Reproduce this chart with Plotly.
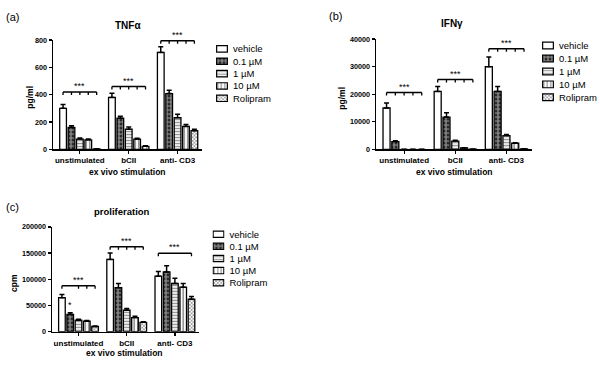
import plotly.graph_objects as go

# ---------------- data ----------------
categories = ["unstimulated", "bCII", "anti- CD3"]
series = ["vehicle", "0.1 µM", "1 µM", "10 µM", "Rolipram"]

tnf_vehicle = [300, 380, 710]
tnf_01 = [160, 228, 408]
tnf_1 = [75, 148, 232]
tnf_10 = [70, 75, 168]
tnf_rol = [3, 22, 137]
tnf_err_vehicle = [28, 30, 42]
tnf_err_01 = [12, 14, 25]
tnf_err_1 = [8, 15, 25]
tnf_err_10 = [6, 6, 14]
tnf_err_rol = [1, 4, 10]
tnf_bracket = [420, 460, 795]

ifn_vehicle = [15000, 21000, 30000]
ifn_01 = [2800, 11700, 21000]
ifn_1 = [0, 3000, 5000]
ifn_10 = [0, 500, 2200]
ifn_rol = [0, 60, 200]
ifn_err_vehicle = [1800, 1800, 3500]
ifn_err_01 = [300, 1600, 1800]
ifn_err_1 = [0, 300, 400]
ifn_err_10 = [0, 100, 200]
ifn_err_rol = [0, 20, 50]
ifn_bracket = [20600, 25300, 36500]

pro_vehicle = [65000, 138000, 106000]
pro_01 = [33000, 84000, 114000]
pro_1 = [22000, 41000, 92000]
pro_10 = [20000, 27000, 85000]
pro_rol = [10000, 18000, 62000]
pro_err_vehicle = [6000, 12000, 9000]
pro_err_01 = [3000, 8000, 12000]
pro_err_1 = [2000, 3500, 10000]
pro_err_10 = [1500, 2500, 7000]
pro_err_rol = [1000, 1000, 5000]
pro_bracket = [87500, 162000, 149700]

tnf_ticks = [[0, 1, 2, 3, 4], [0, 1, 2, 3, 4], [0, 1, 2, 3, 4]]
ifn_ticks = [[0, 1, 2, 3, 4], [0, 1, 2, 3, 4], [0, 1, 2, 3, 4]]
pro_ticks = [[0, 2, 3, 4], [0, 1, 2, 3, 4], [0, 4]]

y_ranges = [[0, 800], [0, 40000], [0, 200000]]
y_dticks = [200, 10000, 50000]
y_titles = ["pg/ml", "pg/ml", "cpm"]
x_title = "ex vivo stimulation"
panel_titles = ["TNFα", "IFNγ", "proliferation"]
panel_letters = ["(a)", "(b)", "(c)"]

# ---------------- styling ----------------
FONT = "Liberation Sans, Arial, sans-serif"
pat_shape = ["", ".", "-", "|", "x"]
pat_fg = ["black", "white", "#222222", "black", "#333333"]
pat_bg = ["white", "black", "white", "white", "white"]
pat_size = [4, 4, 3, 3.5, 2.5]
pat_sol = [0.3, 0.75, 0.45, 0.4, 0.55]

def pattern(i):
    return dict(shape=pat_shape[i], fgcolor=pat_fg[i], bgcolor=pat_bg[i],
                size=pat_size[i], solidity=pat_sol[i])

panels = [
    dict(vals=[tnf_vehicle, tnf_01, tnf_1, tnf_10, tnf_rol],
         errs=[tnf_err_vehicle, tnf_err_01, tnf_err_1, tnf_err_10, tnf_err_rol],
         bracket=tnf_bracket, ticks=tnf_ticks),
    dict(vals=[ifn_vehicle, ifn_01, ifn_1, ifn_10, ifn_rol],
         errs=[ifn_err_vehicle, ifn_err_01, ifn_err_1, ifn_err_10, ifn_err_rol],
         bracket=ifn_bracket, ticks=ifn_ticks),
    dict(vals=[pro_vehicle, pro_01, pro_1, pro_10, pro_rol],
         errs=[pro_err_vehicle, pro_err_01, pro_err_1, pro_err_10, pro_err_rol],
         bracket=pro_bracket, ticks=pro_ticks),
]

BARGAP = 0.14
GROUPGAP = 0.2

fig = go.Figure()
for p_i, p in enumerate(panels):
    xa = "x" if p_i == 0 else f"x{p_i+1}"
    ya = "y" if p_i == 0 else f"y{p_i+1}"
    for s_i, name in enumerate(series):
        fig.add_trace(go.Bar(
            x=categories, y=p["vals"][s_i], name=name, showlegend=False,
            xaxis=xa, yaxis=ya,
            marker=dict(color=pat_bg[s_i], line=dict(color="black", width=1.3),
                        pattern=pattern(s_i)),
            error_y=dict(type="data", array=p["errs"][s_i],
                         arrayminus=[0] * len(categories), symmetric=False,
                         color="black", thickness=1.5, width=2.5),
        ))
    # significance brackets
    slot = (1 - BARGAP) / len(series)
    for c_i in range(len(categories)):
        centers = [c_i - (1 - BARGAP) / 2 + (k + 0.5) * slot for k in range(len(series))]
        yb = p["bracket"][c_i]
        fig.add_shape(type="line", xref=xa, yref=ya, x0=centers[0], x1=centers[-1],
                      y0=yb, y1=yb, line=dict(color="black", width=1.5))
        for k in p["ticks"][c_i]:
            fig.add_shape(type="line", xref=xa, yref=ya, x0=centers[k], x1=centers[k],
                          ysizemode="pixel", yanchor=yb, y0=0, y1=-3,
                          line=dict(color="black", width=1.3))
        fig.add_annotation(xref=xa, yref=ya, x=c_i, y=yb, text="***", showarrow=False,
                           yanchor="bottom", yshift=-1, font=dict(size=9, color="black", family=FONT))

# single star over 0.1 µM in unstimulated proliferation
slot = (1 - BARGAP) / len(series)
fig.add_annotation(xref="x3", yref="y3", x=0 - (1 - BARGAP) / 2 + 1.5 * slot,
                   y=pro_01[0] + pro_err_01[0], text="*", showarrow=False,
                   yanchor="bottom", yshift=1, font=dict(size=9, color="black", family=FONT))

# legend swatches (one small horizontal-bar trace per panel on its own axes)
for l_i in range(3):
    fig.add_trace(go.Bar(
        y=series, x=[1] * len(series), orientation="h", width=0.52, base=0,
        showlegend=False, hoverinfo="skip",
        xaxis=f"x{l_i+4}", yaxis=f"y{l_i+4}",
        marker=dict(color=pat_bg, line=dict(color="black", width=1.2),
                    pattern=dict(shape=pat_shape, fgcolor=pat_fg, bgcolor=pat_bg,
                                 size=pat_size, solidity=pat_sol)),
    ))

ytick_font = dict(family=FONT, size=7.2, color="black", weight="bold")
xtick_font = dict(family=FONT, size=8, color="black", weight="bold")

doms = [
    dict(x=[53 / 600, 202 / 600], y=[1 - 149 / 366, 1 - 37 / 366]),
    dict(x=[376 / 600, 532 / 600], y=[1 - 149 / 366, 1 - 36 / 366]),
    dict(x=[52 / 600, 199 / 600], y=[1 - 336 / 366, 1 - 228.5 / 366]),
]

# legend boxes: symbol x-extent and item y-extent (px)
leg_doms = [
    dict(x=[216, 228], y=[39.7, 103]),
    dict(x=[542, 554], y=[36, 102.3]),
    dict(x=[212.5, 224.5], y=[229.8, 292]),
]

layout = dict(
    width=600, height=366, margin=dict(l=0, r=0, t=0, b=0),
    paper_bgcolor="white", plot_bgcolor="white",
    barmode="group", bargap=BARGAP, bargroupgap=GROUPGAP,
    font=dict(family=FONT, color="black"),
    showlegend=False,
)
for i in range(3):
    sx = "xaxis" if i == 0 else f"xaxis{i+1}"
    sy = "yaxis" if i == 0 else f"yaxis{i+1}"
    layout[sx] = dict(domain=doms[i]["x"], anchor="y" if i == 0 else f"y{i+1}",
                      showline=True, linecolor="black", linewidth=1.5,
                      ticks="outside", ticklen=3, tickwidth=1.2, tickcolor="black",
                      tickfont=xtick_font, showgrid=False, zeroline=False,
                      range=[-0.55, 2.5], fixedrange=True)
    layout[sy] = dict(domain=doms[i]["y"], anchor="x" if i == 0 else f"x{i+1}",
                      range=y_ranges[i], dtick=y_dticks[i], tick0=0, tickformat="d",
                      showline=True, linecolor="black", linewidth=1.5,
                      ticks="outside", ticklen=3, tickwidth=1.3, tickcolor="black",
                      tickfont=ytick_font, showgrid=False, zeroline=False, fixedrange=True)
    lx = f"xaxis{i+4}"
    ly = f"yaxis{i+4}"
    d = leg_doms[i]
    layout[lx] = dict(domain=[d["x"][0] / 600, d["x"][1] / 600], anchor=f"y{i+4}",
                      range=[-0.06, 1.06], visible=False, fixedrange=True)
    layout[ly] = dict(domain=[1 - d["y"][1] / 366, 1 - d["y"][0] / 366], anchor=f"x{i+4}",
                      type="category", categoryorder="array", categoryarray=series,
                      autorange="reversed", side="right", showline=False, showgrid=False,
                      zeroline=False, ticks="", ticklabelstandoff=4,
                      tickfont=dict(family=FONT, size=9.5, color="black"), fixedrange=True)

fig.update_layout(**layout)

# axis titles, panel titles and letters (pixel positions)
ytitle_pos = [(30, 96), (342, 96), (14, 286)]
xtitle_pos = [(127, 172), (454, 172), (124, 358)]
ptitle_pos = [(128, 22), (452, 20), (122, 213)]
letter_pos = [(12, 13), (335, 12), (12, 208)]

def ann(text, px, py, font, angle=0):
    fig.add_annotation(xref="paper", yref="paper", x=px / 600, y=1 - py / 366, text=text,
                       showarrow=False, xanchor="center", yanchor="middle", textangle=angle,
                       borderpad=0,
                       font=dict(family=FONT, color="black", **font))

for i in range(3):
    ann(y_titles[i], *ytitle_pos[i], dict(size=8.5, weight="bold"), angle=-90)
    ann(x_title, *xtitle_pos[i], dict(size=8.5, weight="bold"))
    ann(panel_titles[i], *ptitle_pos[i], dict(size=10 if i < 2 else 9.5, weight="bold"))
    ann(panel_letters[i], *letter_pos[i], dict(size=11, weight="normal"))

fig.write_html("out.html", config={"displayModeBar": False, "staticPlot": True},
               post_script="document.body.style.margin='0';")
